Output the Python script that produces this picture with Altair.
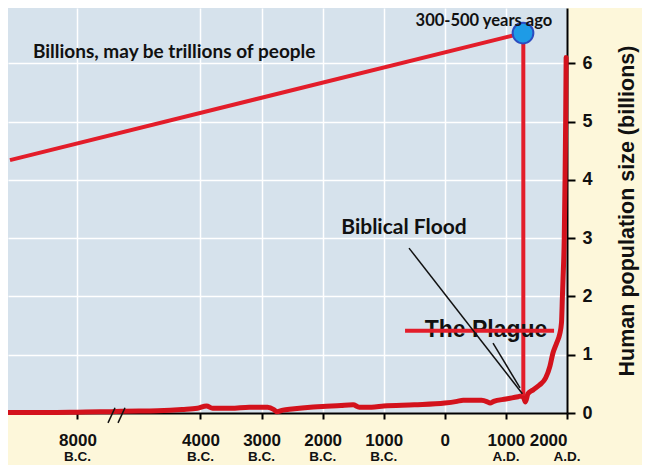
import altair as alt
import pandas as pd

# ---------------- data (years: negative = B.C.) ----------------
BREAK = -5350      # axis break: earlier years are compressed
COMPRESS = 0.25

pop_years = [-12550, -10000, -8000, -6500, -6000, -5300, -4700, -4300, -4050, -3900,
             -3800, -3500, -3200, -2900, -2800, -2750, -2650, -2500, -2200, -2000,
             -1700, -1500, -1400, -1200, -1000, -500, 0, 200, 300, 600,
             700, 740, 800, 1000, 1100, 1200, 1250, 1290, 1320, 1360,
             1450, 1550, 1650, 1720, 1770, 1830, 1880, 1910, 1925, 1935,
             1955, 1968, 1978, 1986]
pop_values = [0.01, 0.01, 0.015, 0.02, 0.02, 0.03, 0.04, 0.06, 0.08, 0.12,
              0.08, 0.08, 0.10, 0.10, 0.06, 0.02, 0.05, 0.07, 0.10, 0.11,
              0.13, 0.14, 0.10, 0.10, 0.12, 0.14, 0.17, 0.20, 0.22, 0.22,
              0.19, 0.17, 0.20, 0.24, 0.26, 0.28, 0.29, 0.26, 0.19, 0.33,
              0.40, 0.48, 0.60, 0.80, 1.03, 1.20, 1.35, 1.55, 2.00, 2.30,
              3.00, 4.00, 5.00, 6.10]

tick_years = [-8000, -4000, -3000, -2000, -1000, 0, 1000, 2000]
era_years = [-8000, -4000, -3000, -2000, -1000, 1000, 2000]
era_labels = ["B.C.", "B.C.", "B.C.", "B.C.", "B.C.", "A.D.", "A.D."]
y_ticks = [0, 1, 2, 3, 4, 5, 6]

# speculative "billions" line
spec_years = [-12420, 1280]
spec_values = [4.34, 6.52]

# marker "300-500 years ago"
marker_year = [1280]
marker_value = [6.52]

# vertical drop line from the marker
drop_year = [1285]
drop_top = [6.52]
drop_bottom = [0.30]

# "The Plague" strike line
plague_years = [-651, 1788]
plague_value = [1.41, 1.41]

# pointer lines from "Biblical Flood"
ptr_x1 = [-586, 789]
ptr_y1 = [2.83, 1.20]
ptr_x2 = [1270, 1231]
ptr_y2 = [0.33, 0.43]

# axis-break slashes
brk_x1 = [-6002, -5349]
brk_y1 = [-0.17, -0.17]
brk_x2 = [-5542, -5235]
brk_y2 = [0.09, 0.09]

ann_texts = ["Billions, may be trillions of people", "300-500 years ago", "Biblical Flood"]
ann_years = [-4430, 640, -668]
ann_values = [6.2, 6.72, 3.17]
ann_sizes = [19, 16.5, 21]

plague_text = ["The Plague"]
plague_text_year = [674]
plague_text_value = [1.42]


def to_pos(y):
    return y if y >= BREAK else BREAK + (y - BREAK) * COMPRESS


XSCALE = alt.Scale(domain=[-7150, 2000], nice=False, zero=False)
YSCALE = alt.Scale(domain=[0, 6.95], nice=False, zero=True)

RED = "#d3121c"
RED2 = "#e31d2a"

tick_pos = [to_pos(t) for t in tick_years]

label_expr = ("datum.value < -5000 ? '8000' : "
              "(datum.value < 0 ? toString(-datum.value) : toString(datum.value))")

XAXIS = alt.Axis(
    values=tick_pos, labelExpr=label_expr, title=None, grid=True,
    gridColor="white", gridWidth=1.5, domainColor="black", domainWidth=2,
    tickColor="black", tickWidth=2, tickSize=6,
    labelFont="Liberation Sans", labelFontWeight="bold", labelFontSize=17,
    labelPadding=13, labelColor="#111", labelBaseline="top")
YAXIS = alt.Axis(
    orient="right", values=y_ticks, format="d",
    title="Human population size (billions)", grid=True,
    gridColor="white", gridWidth=1.5, domainColor="black", domainWidth=2,
    tickColor="black", tickWidth=2, tickSize=8,
    labelFont="Liberation Sans", labelFontWeight="bold", labelFontSize=18,
    labelPadding=7, labelColor="#111",
    titleFont="Liberation Sans", titleFontWeight="bold", titleFontSize=21.5,
    titleAngle=270, titleColor="#111", titlePadding=46)


def X(field="pos"):
    return alt.X(f"{field}:Q", scale=XSCALE, axis=XAXIS)


def Y(field="val"):
    return alt.Y(f"{field}:Q", scale=YSCALE, axis=YAXIS)


pop_df = pd.DataFrame({"pos": [to_pos(y) for y in pop_years], "val": pop_values})
base_line = alt.Chart(pop_df).mark_line(
    color=RED, strokeWidth=5, strokeCap="round", strokeJoin="round", interpolate="monotone"
).encode(x=X(), y=Y())

spec_df = pd.DataFrame({"pos": [to_pos(y) for y in spec_years], "val": spec_values})
spec_line = alt.Chart(spec_df).mark_line(color=RED2, strokeWidth=4).encode(x=X(), y=Y())

drop_df = pd.DataFrame({"pos": drop_year, "val": drop_top, "val2": drop_bottom})
drop_line = alt.Chart(drop_df).mark_rule(color=RED2, strokeWidth=4).encode(
    x=X(), y=Y(), y2=alt.Y2("val2"))

plague_text_df = pd.DataFrame({"pos": plague_text_year, "val": plague_text_value, "t": plague_text})
plague_txt = alt.Chart(plague_text_df).mark_text(
    font="Liberation Sans", fontWeight="bold", fontSize=23, color="#111", baseline="middle"
).encode(x=X(), y=Y(), text="t:N")

plague_df = pd.DataFrame({"pos": plague_years, "val": plague_value})
plague_line = alt.Chart(plague_df).mark_line(color=RED2, strokeWidth=4).encode(x=X(), y=Y())

ptr_df = pd.DataFrame({"pos": ptr_x1, "val": ptr_y1, "pos2": ptr_x2, "val2": ptr_y2})
ptr_lines = alt.Chart(ptr_df).mark_rule(color="#111", strokeWidth=1.5).encode(
    x=X(), y=Y(), x2=alt.X2("pos2"), y2=alt.Y2("val2"))

marker_df = pd.DataFrame({"pos": marker_year, "val": marker_value})
marker = alt.Chart(marker_df).mark_point(
    shape="circle", size=430, filled=True, fill="#1e9be6", stroke="#2c4cc0",
    strokeWidth=2, opacity=1
).encode(x=X(), y=Y())

ann_df = pd.DataFrame({"pos": ann_years, "val": ann_values, "t": ann_texts, "s": ann_sizes})
ann = alt.Chart(ann_df).mark_text(
    font="Lato", fontWeight="bold", color="#111", baseline="middle"
).encode(x=X(), y=Y(), text="t:N", size=alt.Size("s:Q", scale=None, legend=None))

era_df = pd.DataFrame({"pos": [to_pos(y) for y in era_years], "val": [-0.76] * len(era_years),
                       "t": era_labels})
era = alt.Chart(era_df).mark_text(
    font="Liberation Sans", fontWeight="bold", fontSize=13.5, color="#111", baseline="middle"
).encode(x=X(), y=Y(), text="t:N")

brk_df = pd.DataFrame({"pos": [to_pos(v) for v in brk_x1], "val": brk_y1,
                       "pos2": [to_pos(v) for v in brk_x2], "val2": brk_y2})
brk = alt.Chart(brk_df).mark_rule(color="#111", strokeWidth=1.5).encode(
    x=X(), y=Y(), x2=alt.X2("pos2"), y2=alt.Y2("val2"))

chart = alt.layer(
    base_line, spec_line, drop_line, plague_txt, plague_line, ptr_lines, marker, ann, era, brk
).properties(
    width=559, height=405, background="#fdf7da",
    padding={"left": 0, "top": 0, "right": 75, "bottom": 52},
    autosize="none",
).configure_view(fill="#d6e2ec", stroke=None)

chart.save("out.html", embed_options={"renderer": "svg", "actions": False})
